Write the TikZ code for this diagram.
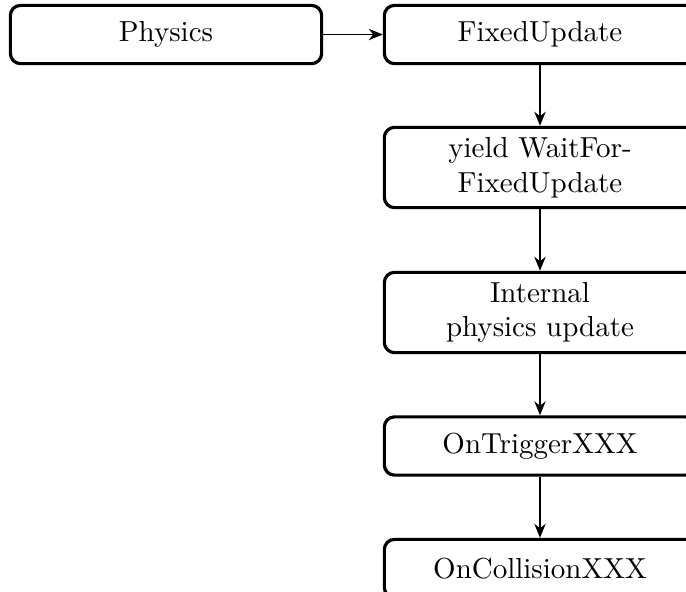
\documentclass[tikz,border=0pt]{standalone}
\usetikzlibrary{arrows.meta}
\begin{document}
\begin{tikzpicture}[x=0.345pt,y=-0.345pt,
  stagebox/.style={draw, line width=1.1pt, rounded corners=3.5pt,
    minimum width=107.4pt, inner sep=0pt, align=center, font=\normalsize},
  onebox/.style={stagebox, minimum height=20.1pt},
  twobox/.style={stagebox, minimum height=27.7pt},
  flow/.style={line width=0.6pt, -{Stealth[length=4.8pt,width=3.9pt,inset=1.5pt]}}]
  \useasboundingbox (0,0) rectangle (686,592);
  \clip (0,0) rectangle (686,592);
  \node[onebox] (physics) at (166,34.5) {Physics};
  \node[onebox] (fixed)   at (540,34.5) {FixedUpdate};
  \node[twobox] (yield)   at (540,167.5) {yield WaitFor-\\FixedUpdate};
  \node[twobox] (internal) at (540,312.5) {Internal\\physics update};
  \node[onebox] (trigger) at (540,446) {OnTriggerXXX};
  \node[onebox] (collision) at (540,568.5) {OnCollisionXXX};
  \draw[flow] (physics) -- (fixed);
  \draw[flow] (fixed) -- (yield);
  \draw[flow] (yield) -- (internal);
  \draw[flow] (internal) -- (trigger);
  \draw[flow] (trigger) -- (collision);
\end{tikzpicture}
\end{document}
